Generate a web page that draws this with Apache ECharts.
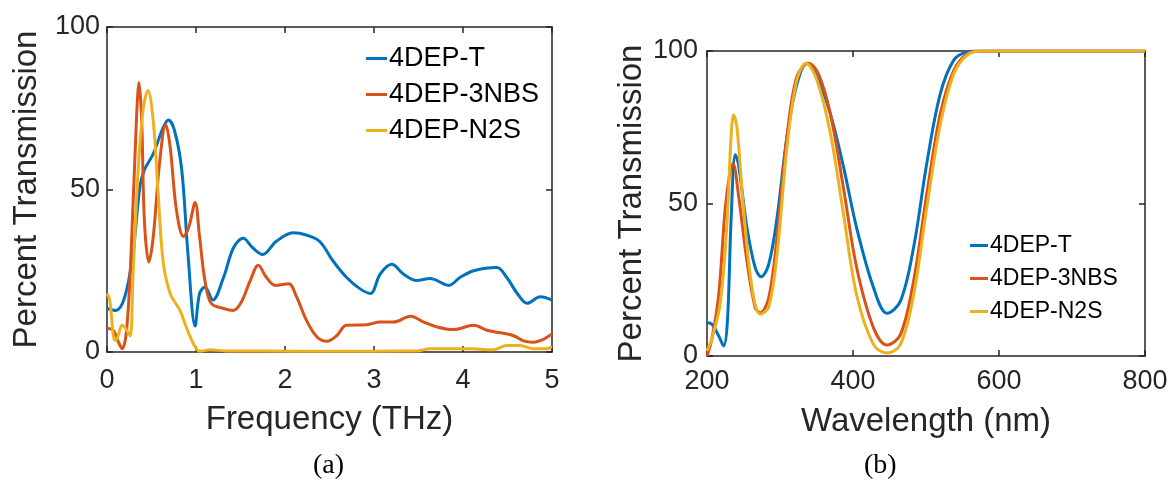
<!DOCTYPE html>
<html>
<head>
<meta charset="utf-8">
<script src="https://cdn.jsdelivr.net/npm/echarts@6/dist/echarts.min.js"></script>
<style>
  html, body { margin: 0; padding: 0; background: #fff; }
  #chart { width: 1172px; height: 494px; }
</style>
</head>
<body>
<div id="chart"></div>
<script>
// Panel (a): terahertz transmission spectra
const seriesNames = ['4DEP-T', '4DEP-3NBS', '4DEP-N2S'];
const seriesColors = ['#0072BD', '#D95319', '#EDB120'];

const freqT = [0, 0.1, 0.2, 0.29, 0.37, 0.42, 0.52, 0.63, 0.69, 0.76, 0.84, 0.91, 0.99, 1.04, 1.10, 1.19, 1.31, 1.42, 1.53, 1.64, 1.75, 1.90, 2.09, 2.24, 2.39, 2.54, 2.69, 2.84, 2.96, 3.07, 3.20, 3.33, 3.48, 3.63, 3.84, 3.97, 4.12, 4.38, 4.49, 4.61, 4.72, 4.87, 5.0];
const transT = [13.4, 12.8, 17, 30, 51, 56, 61, 69, 71.4, 68, 56, 30, 8, 18, 20, 16, 23, 32, 35, 32, 30, 34, 36.7, 36, 34, 28, 23, 19.5, 18, 24, 27, 24, 22, 22.6, 20.5, 23, 25, 26, 23, 18, 15, 17, 16];

const freqNBS = [0, 0.07, 0.12, 0.17, 0.22, 0.27, 0.33, 0.36, 0.39, 0.42, 0.47, 0.52, 0.59, 0.66, 0.71, 0.78, 0.86, 0.92, 0.99, 1.04, 1.10, 1.17, 1.31, 1.42, 1.51, 1.61, 1.70, 1.79, 1.89, 2.04, 2.13, 2.24, 2.36, 2.47, 2.58, 2.69, 2.92, 3.07, 3.22, 3.41, 3.56, 3.71, 3.89, 4.12, 4.27, 4.42, 4.57, 4.68, 4.79, 4.91, 5.0];
const transNBS = [7.2, 6.7, 3.6, 1, 6.7, 30, 71, 83, 71, 40.6, 27.7, 35.5, 58, 70, 63, 43.7, 35.5, 38.5, 46, 35.5, 22, 15, 13.4, 12.8, 15.4, 22, 26.7, 23, 20.5, 21, 17, 9.8, 4.6, 3.3, 5, 8.2, 8.4, 9.2, 9.2, 11, 9.2, 7.7, 6.9, 8.2, 6.7, 5.9, 5, 3.4, 3, 4, 5.6];

const freqN2S = [0, 0.03, 0.09, 0.12, 0.17, 0.21, 0.26, 0.29, 0.35, 0.41, 0.46, 0.52, 0.57, 0.63, 0.71, 0.82, 0.89, 0.97, 1.04, 1.16, 1.35, 1.80, 2.55, 3.30, 3.48, 3.63, 4.04, 4.34, 4.49, 4.64, 4.79, 4.94, 5.0];
const transN2S = [18, 16, 3.6, 4.6, 8.2, 7.2, 5, 22, 56, 75.5, 80.5, 71, 51, 28, 18, 12.8, 7.7, 2.6, 0.2, 0.7, 0.3, 0.3, 0.2, 0.3, 0.3, 1, 1, 0.7, 2, 2, 1, 1, 1.7];

// Panel (b): UV-visible transmission spectra
const waveT = [200, 206.8, 216, 222.8, 228, 232.9, 238.8, 243, 254.8, 266, 274, 284.5, 296, 309.6, 323, 337, 350.7, 369, 387, 405, 428, 446.6, 465, 483, 501, 519.6, 538, 556, 570, 650, 800];
const uvT = [11, 10.4, 6.6, 3.3, 11.5, 44, 66, 63, 42, 29, 26, 30, 45.5, 72, 89, 96, 91.5, 79.4, 62, 42, 22.5, 14, 18, 35.6, 63, 86, 97, 99.7, 100, 100, 100];

const waveNBS = [200, 207, 216, 225, 232, 235.6, 243, 254.8, 266, 273, 284.5, 296, 309.6, 323, 339, 352.5, 369, 387, 405, 428, 446.6, 465, 483, 501, 519.6, 538, 556, 574, 650, 800];
const uvNBS = [0, 6, 20, 48.5, 61, 63, 53, 31, 15.9, 14.2, 19, 39, 72, 91.5, 96, 92.6, 79.4, 55, 29, 9.3, 3.6, 7, 24.6, 53, 79.4, 93.6, 99, 100, 100, 100];

const waveN2S = [200, 207, 218, 227, 233, 236.5, 241, 250, 261.6, 273, 284.5, 296, 309.6, 323, 335.6, 350.7, 369, 387, 405, 428, 446.6, 465, 483, 501, 519.6, 538, 556, 576, 650, 800];
const uvN2S = [1.6, 6, 17, 42, 72, 79, 75, 48.5, 22.5, 13.7, 16, 33.4, 68.5, 90.4, 96, 90.4, 73, 46.5, 20, 3.8, 1, 3.8, 20, 48.5, 76, 92.5, 98.6, 100, 100, 100];

const freqTicks = { min: 0, max: 5, interval: 1 };
const waveTicks = { min: 200, max: 800, interval: 200 };
const transTicks = { min: 0, max: 100, interval: 50 };

const pairs = (xs, ys) => xs.map((x, i) => [x, ys[i]]);

const SANS = "'Liberation Sans', Arial, Helvetica, sans-serif";
const SERIF = "'Liberation Serif', 'Times New Roman', serif";
const INK = '#262626';
const TITLE_SIZE = 33;

function mainAxis(gridIndex, range, position, extra) {
  return Object.assign({
    type: 'value', gridIndex, position,
    min: range.min, max: range.max, interval: range.interval,
    axisLine: { show: true, onZero: false, lineStyle: { color: INK, width: 1.5 } },
    axisTick: { show: true, inside: true, length: 6, lineStyle: { color: INK, width: 1.5 } },
    axisLabel: { show: true, color: INK, fontFamily: SANS, fontSize: 27 },
    splitLine: { show: false }
  }, extra || {});
}
function boxAxis(gridIndex, range, position) {
  return mainAxis(gridIndex, range, position, {
    axisLabel: { show: false }
  });
}

const lineSeries = (name, i, xi, yi, data) => ({
  name, type: 'line', xAxisIndex: xi, yAxisIndex: yi,
  data, smooth: 0.35, showSymbol: false, symbol: 'none',
  lineStyle: { color: seriesColors[i], width: 3 },
  itemStyle: { color: seriesColors[i] },
  emphasis: { disabled: true }, z: 2 + i
});

const chart = echarts.init(document.getElementById('chart'), null, { renderer: 'canvas' });
chart.setOption({
  animation: false,
  backgroundColor: '#ffffff',
  grid: [
    { left: 107, top: 27, width: 445, height: 325, containLabel: false },
    { left: 707, top: 51, width: 438, height: 305, containLabel: false }
  ],
  xAxis: [
    mainAxis(0, freqTicks, 'bottom', {
      name: 'Frequency (THz)', nameLocation: 'middle', nameGap: 51,
      nameTextStyle: { color: INK, fontFamily: SANS, fontSize: TITLE_SIZE },
      axisLabel: { color: INK, fontFamily: SANS, fontSize: 27, margin: 15 }
    }),
    boxAxis(0, freqTicks, 'top'),
    mainAxis(1, waveTicks, 'bottom', {
      name: 'Wavelength (nm)', nameLocation: 'middle', nameGap: 49,
      nameTextStyle: { color: INK, fontFamily: SANS, fontSize: TITLE_SIZE },
      axisLabel: { color: INK, fontFamily: SANS, fontSize: 27, margin: 12 }
    }),
    boxAxis(1, waveTicks, 'top')
  ],
  yAxis: [
    mainAxis(0, transTicks, 'left', {
      name: 'Percent Transmission', nameLocation: 'middle', nameGap: 64,
      nameTextStyle: { color: INK, fontFamily: SANS, fontSize: TITLE_SIZE },
      axisLabel: { color: INK, fontFamily: SANS, fontSize: 27, margin: 7 }
    }),
    boxAxis(0, transTicks, 'right'),
    mainAxis(1, transTicks, 'left', {
      name: 'Percent Transmission', nameLocation: 'middle', nameGap: 59,
      nameTextStyle: { color: INK, fontFamily: SANS, fontSize: TITLE_SIZE },
      axisLabel: { color: INK, fontFamily: SANS, fontSize: 27, margin: 9 }
    }),
    boxAxis(1, transTicks, 'right')
  ],
  legend: [
    {
      data: seriesNames, orient: 'vertical', left: 361, top: 40,
      itemWidth: 21, itemHeight: 3, itemGap: 9, icon: 'rect',
      selectedMode: false,
      textStyle: { color: '#000', fontFamily: SANS, fontSize: 27, padding: [0, 0, 0, -3] }
    },
    {
      data: seriesNames, orient: 'vertical', left: 965, top: 229,
      itemWidth: 18, itemHeight: 3, itemGap: 10, icon: 'rect',
      selectedMode: false,
      textStyle: { color: '#000', fontFamily: SANS, fontSize: 23, padding: [0, 0, 0, -3] }
    }
  ],
  graphic: [
    { type: 'text', left: 313, top: 452, style: { text: '(a)', fill: '#000', font: '28px ' + SERIF } },
    { type: 'text', left: 864, top: 452, style: { text: '(b)', fill: '#000', font: '28px ' + SERIF } }
  ],
  series: [
    lineSeries(seriesNames[0], 0, 0, 0, pairs(freqT, transT)),
    lineSeries(seriesNames[1], 1, 0, 0, pairs(freqNBS, transNBS)),
    lineSeries(seriesNames[2], 2, 0, 0, pairs(freqN2S, transN2S)),
    lineSeries(seriesNames[0], 0, 2, 2, pairs(waveT, uvT)),
    lineSeries(seriesNames[1], 1, 2, 2, pairs(waveNBS, uvNBS)),
    lineSeries(seriesNames[2], 2, 2, 2, pairs(waveN2S, uvN2S))
  ]
});
</script>
</body>
</html>
